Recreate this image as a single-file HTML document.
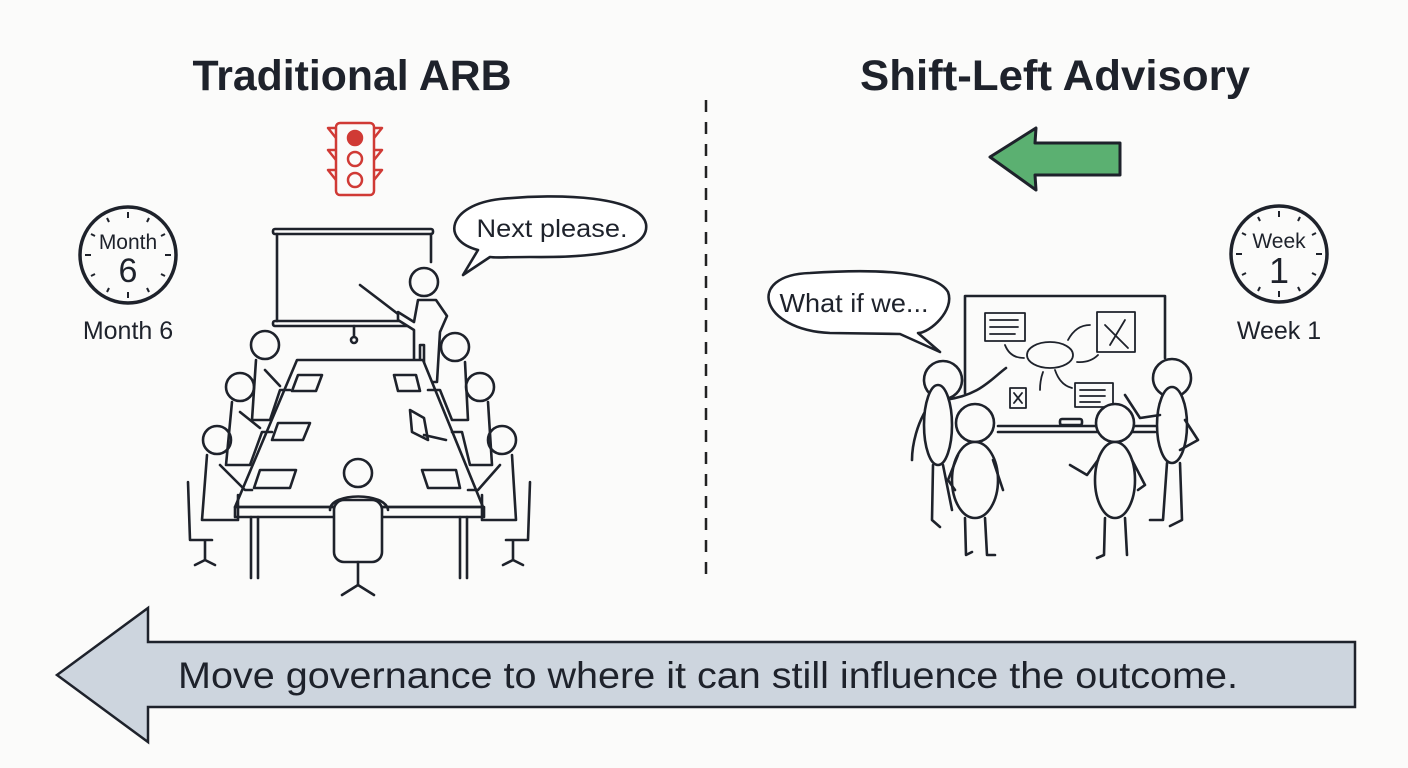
<!DOCTYPE html>
<html><head><meta charset="utf-8"><style>
html,body{margin:0;padding:0;background:#fbfbfa;}
svg{display:block;}
text{font-family:"Liberation Sans",Arial,sans-serif;fill:#1e222b;}
</style></head><body>
<svg width="1408" height="768" viewBox="0 0 1408 768" xmlns="http://www.w3.org/2000/svg">
<rect width="1408" height="768" fill="#fbfbfa"/>
<text x="352" y="90" font-size="43" font-weight="bold" text-anchor="middle" fill="#2a2f38" textLength="319" lengthAdjust="spacingAndGlyphs">Traditional ARB</text>
<text x="1055" y="90" font-size="43" font-weight="bold" text-anchor="middle" fill="#2a2f38" textLength="390" lengthAdjust="spacingAndGlyphs">Shift-Left Advisory</text>
<line x1="706" y1="100" x2="706" y2="582" stroke="#222" stroke-width="2.5" stroke-dasharray="12 10"/>

<!-- traffic light -->
<g stroke="#d03a35" stroke-width="2.5" fill="none" stroke-linejoin="round">
<path d="M336 128 L328 128 L336 138 M336 150 L328 150 L336 160 M336 170 L328 170 L336 180"/>
<path d="M374 128 L382 128 L374 138 M374 150 L382 150 L374 160 M374 170 L382 170 L374 180"/>
<rect x="336" y="123" width="38" height="72" rx="4"/>
<circle cx="355" cy="138" r="7" fill="#d03a35"/>
<circle cx="355" cy="159" r="7"/>
<circle cx="355" cy="180" r="7"/>
</g>

<!-- green arrow -->
<polygon points="990,157 1036,128 1035,143 1120,143 1120,175 1035,175 1036,190" fill="#5bb071" stroke="#1e222b" stroke-width="3" stroke-linejoin="round"/>

<!-- clocks -->
<g stroke="#1e222b" fill="none">
<circle cx="128" cy="255" r="48" stroke-width="3.5"/>
<circle cx="1279" cy="254" r="48" stroke-width="3.5"/>
</g>
<g stroke="#1e222b" stroke-width="2">
<g id="ticks">
<line x1="128" y1="212" x2="128" y2="218"/>
<line x1="128" y1="292" x2="128" y2="298"/>
<line x1="85" y1="255" x2="91" y2="255"/>
<line x1="165" y1="255" x2="171" y2="255"/>
<line x1="149" y1="218" x2="147" y2="222"/>
<line x1="107" y1="218" x2="109" y2="222"/>
<line x1="149" y1="292" x2="147" y2="288"/>
<line x1="107" y1="292" x2="109" y2="288"/>
<line x1="165" y1="234" x2="161" y2="236"/>
<line x1="91" y1="234" x2="95" y2="236"/>
<line x1="165" y1="276" x2="161" y2="274"/>
<line x1="91" y1="276" x2="95" y2="274"/>
</g>
<use href="#ticks" transform="translate(1151,-1)"/>
</g>
<text x="128" y="249" font-size="21" text-anchor="middle">Month</text>
<text x="128" y="282" font-size="34" text-anchor="middle">6</text>
<text x="128" y="339" font-size="25" text-anchor="middle">Month 6</text>
<text x="1279" y="248" font-size="21" text-anchor="middle">Week</text>
<text x="1279" y="283" font-size="36" text-anchor="middle">1</text>
<text x="1279" y="339" font-size="25" text-anchor="middle">Week 1</text>

<!-- left scene -->
<g stroke="#1e222b" stroke-width="2.6" fill="none" stroke-linecap="round" stroke-linejoin="round">
<path d="M478 250 C440 240 448 205 500 199 C560 193 640 196 646 224 C650 250 600 258 530 257 C505 257 495 258 490 257 L463 275 Z" fill="#fff"/>
<rect x="273" y="229" width="160" height="5" rx="2"/>
<rect x="273" y="321" width="140" height="5" rx="2"/>
<line x1="277" y1="234" x2="277" y2="321"/>
<line x1="431" y1="234" x2="431" y2="262"/>
<line x1="354" y1="326" x2="354" y2="337"/>
<circle cx="354" cy="340" r="3"/>
<line x1="360" y1="285" x2="398" y2="314"/>
<circle cx="424" cy="282" r="14" fill="#fbfbfa"/>
<path d="M398 312 L414 322 L418 300 L436 300 L447 316 L440 332 L437 382 L424 382 L424 345 L420 345 L420 382 L414 382 L414 330 L398 320 Z" fill="#fbfbfa"/>
<path d="M297 360 L423 360 L483 507 L235 507 Z" fill="#fbfbfa"/>
<rect x="235" y="507" width="249" height="10"/>
<line x1="251" y1="517" x2="251" y2="578"/><line x1="258" y1="517" x2="258" y2="578"/>
<line x1="460" y1="517" x2="460" y2="578"/><line x1="467" y1="517" x2="467" y2="578"/>
<polygon points="298,375 322,375 316,391 292,391"/>
<polygon points="394,375 416,375 420,391 398,391"/>
<polygon points="278,423 310,423 303,440 272,440"/>
<polygon points="260,470 296,470 290,488 254,488"/>
<polygon points="422,470 456,470 460,488 428,488"/>
<path d="M410 410 L424 418 L428 440 L412 432 Z M424 435 L446 440"/>
<circle cx="265" cy="345" r="14"/><path d="M256 360 L252 420 L270 420 L280 390 L290 390 M265 370 L280 386"/>
<circle cx="240" cy="387" r="14"/><path d="M232 402 L226 465 L250 465 L262 432 L272 432 M240 412 L260 428"/>
<circle cx="217" cy="440" r="14"/><path d="M207 455 L202 520 L238 520 L238 495 M220 465 L245 490 L252 490"/>
<path d="M188 482 L190 540 L212 540 M205 540 L205 560 M195 565 L205 560 L215 565"/>
<circle cx="455" cy="347" r="14"/><path d="M465 362 L468 420 L452 420 L440 390 L428 390"/>
<circle cx="480" cy="387" r="14"/><path d="M488 402 L492 465 L470 465 L462 432 L452 432"/>
<circle cx="502" cy="440" r="14"/><path d="M512 455 L516 520 L482 520 L482 495 M500 465 L478 490 L468 490"/>
<path d="M530 482 L528 540 L506 540 M513 540 L513 560 M503 565 L513 560 L523 565"/>
<circle cx="358" cy="473" r="14"/>
<path d="M330 510 C330 492 386 492 388 510" />
<rect x="334" y="500" width="48" height="62" rx="10" fill="#fbfbfa"/>
<line x1="358" y1="562" x2="358" y2="585"/><path d="M342 595 L358 585 L374 595"/>
</g>
<text x="552" y="237" font-size="25" text-anchor="middle" textLength="151" lengthAdjust="spacingAndGlyphs">Next please.</text>

<!-- right scene -->
<g stroke="#1e222b" stroke-width="2.6" fill="none" stroke-linecap="round" stroke-linejoin="round">
<path d="M830 333 C760 330 745 275 810 273 C870 269 935 270 948 292 C955 310 930 333 918 333 L940 352 L900 334 Z" fill="#fff"/>
<polyline points="965,393 965,296 1165,296 1165,358"/>
<line x1="998" y1="426" x2="1155" y2="426"/><line x1="998" y1="432" x2="1155" y2="432"/>
<rect x="1060" y="419" width="22" height="6" rx="2"/>
<g stroke-width="1.8">
<rect x="985" y="313" width="40" height="28"/>
<path d="M990 320 L1018 320 M990 327 L1018 327 M990 334 L1015 334"/>
<ellipse cx="1050" cy="355" rx="23" ry="13"/>
<path d="M1005 345 Q1010 358 1024 358 M1068 340 Q1076 325 1090 325 M1077 362 Q1090 363 1098 355 M1040 390 Q1040 380 1043 372 M1055 370 Q1060 385 1072 388"/>
<rect x="1097" y="312" width="38" height="40"/><path d="M1105 325 L1128 348 M1125 320 L1110 345"/>
<rect x="1010" y="388" width="16" height="20"/><path d="M1014 393 L1022 403 M1022 393 L1014 403"/>
<rect x="1075" y="383" width="38" height="24"/><path d="M1080 390 L1105 390 M1080 396 L1105 396 M1080 402 L1100 402"/>
</g>
<circle cx="943" cy="380" r="19" fill="#fbfbfa"/>
<path d="M935 398 C915 420 912 450 912 460 M945 400 C980 395 990 380 1006 368"/>
<ellipse cx="938" cy="425" rx="14" ry="40" fill="#fbfbfa"/>
<path d="M933 465 L932 520 L940 527 M943 465 L952 510"/>
<circle cx="975" cy="423" r="19" fill="#fbfbfa"/>
<ellipse cx="975" cy="480" rx="23" ry="38" fill="#fbfbfa"/>
<path d="M958 455 L948 480 L955 490 M993 460 L1003 490"/>
<path d="M965 518 L966 555 L972 552 M985 518 L987 555 L995 555"/>
<circle cx="1115" cy="423" r="19" fill="#fbfbfa"/>
<ellipse cx="1115" cy="480" rx="20" ry="38" fill="#fbfbfa"/>
<path d="M1098 460 L1087 475 L1070 465 M1132 460 L1145 485 L1138 490"/>
<path d="M1105 518 L1104 555 L1097 558 M1125 518 L1127 555"/>
<circle cx="1172" cy="378" r="19" fill="#fbfbfa"/>
<ellipse cx="1172" cy="425" rx="15" ry="38" fill="#fbfbfa"/>
<path d="M1160 415 L1140 418 L1125 395 M1185 420 L1198 440 L1180 450"/>
<path d="M1167 463 L1163 520 L1150 520 M1180 463 L1182 520 L1170 526"/>
</g>
<text x="854" y="312" font-size="26" text-anchor="middle" textLength="149" lengthAdjust="spacingAndGlyphs">What if we...</text>

<!-- bottom arrow -->
<polygon points="57,675 148,608 148,642 1355,642 1355,707 148,707 148,742" fill="#cdd5de" stroke="#1e222b" stroke-width="2.5" stroke-linejoin="miter"/>
<text x="708" y="688" font-size="37" text-anchor="middle" fill="#111" textLength="1060" lengthAdjust="spacingAndGlyphs">Move governance to where it can still influence the outcome.</text>
</svg>
</body></html>
